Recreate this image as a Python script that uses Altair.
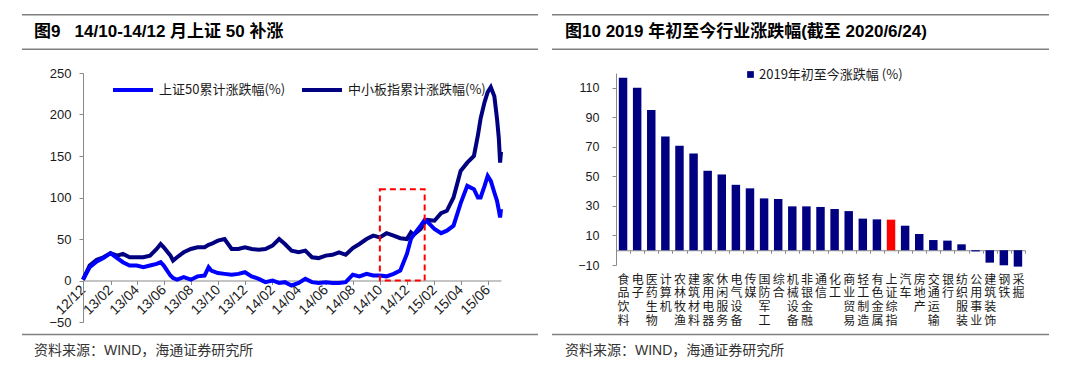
import altair as alt
import pandas as pd

# ---------------- Figure 9 data ----------------
dates = [
    "2012-12-01", "2012-12-16", "2013-01-01", "2013-01-16", "2013-02-01", "2013-02-16",
    "2013-03-01", "2013-03-16", "2013-04-01", "2013-04-16", "2013-05-01", "2013-05-16",
    "2013-05-25", "2013-06-01", "2013-06-16", "2013-06-22", "2013-07-01", "2013-07-16",
    "2013-08-01", "2013-08-16", "2013-09-01", "2013-09-10", "2013-09-16", "2013-10-01",
    "2013-10-16", "2013-11-01", "2013-11-16", "2013-12-01", "2013-12-16", "2014-01-01",
    "2014-01-16", "2014-02-01", "2014-02-16", "2014-03-01", "2014-03-16", "2014-04-01",
    "2014-04-16", "2014-05-01", "2014-05-16", "2014-06-01", "2014-06-16", "2014-07-01",
    "2014-07-16", "2014-08-01", "2014-08-16", "2014-09-01", "2014-09-16", "2014-10-01",
    "2014-10-16", "2014-11-01", "2014-11-16", "2014-12-01", "2014-12-10", "2014-12-16",
    "2015-01-01", "2015-01-10", "2015-01-16", "2015-02-01", "2015-02-16", "2015-03-01",
    "2015-03-16", "2015-04-01", "2015-04-16", "2015-05-01", "2015-05-10", "2015-05-16",
    "2015-05-25", "2015-06-01", "2015-06-08", "2015-06-16", "2015-06-22", "2015-06-26",
    "2015-06-29", "2015-07-01",
]
sme_cum = [
    1, 18, 25, 28, 33, 30, 32, 28, 28, 28, 30, 38,
    44, 40, 30, 24, 28, 34, 38, 40, 40, 43, 44, 48,
    50, 38, 38, 40, 38, 37, 38, 42, 50, 44, 36, 34,
    36, 28, 27, 30, 31, 34, 31, 39, 44, 50, 54, 52,
    57, 54, 51, 50, 58, 55, 62, 70, 73, 72, 81, 84,
    100, 132, 142, 150, 175, 195, 215, 227, 233, 222, 195, 172,
    142, 155,
]
sz50_cum = [
    1, 16, 23, 27, 33, 27, 22, 18, 18, 16, 18, 20,
    22, 18, 6, 3, 1, 4, 1, 5, 6, 16, 12, 9,
    8, 7, 8, 10, 5, 2, -2, 0, -3, -2, -6, -3,
    2, -2, -3, -2, -3, -3, -2, 7, 5, 8, 6, 6,
    5, 8, 12, 32, 50, 55, 66, 73, 71, 62, 57, 60,
    66, 93, 114, 110, 100, 100, 114, 126, 120, 106, 96, 85,
    76, 86,
]
series_names = ["上证50累计涨跌幅(%)", "中小板指累计涨跌幅(%)"]
series_colors = ["#0000FF", "#000080"]
x_tick_dates = [
    "2012-12-01", "2013-02-01", "2013-04-01", "2013-06-01", "2013-08-01", "2013-10-01",
    "2013-12-01", "2014-02-01", "2014-04-01", "2014-06-01", "2014-08-01", "2014-10-01",
    "2014-12-01", "2015-02-01", "2015-04-01", "2015-06-01",
]
x_domain_dates = ["2012-12-01", "2015-07-01"]
y1_ticks = [-50, 0, 50, 100, 150, 200, 250]
y1_domain = [-50, 250]
box_start, box_end, box_low, box_high = "2014-10-01", "2015-01-10", 0, 110

title_left = "图9\u00a0\u00a0\u00a014/10-14/12 月上证 50 补涨"
source_text = "资料来源：WIND，海通证券研究所"

# ---------------- Figure 10 data ----------------
industries = [
    "食品饮料", "电子", "医药生物", "计算机", "农林牧渔", "建筑材料", "家用电器", "休闲服务",
    "电气设备", "传媒", "国防军工", "综合", "机械设备", "非银金融", "通信", "化工",
    "商业贸易", "轻工制造", "有色金属", "上证综指", "汽车", "房地产", "交通运输", "银行",
    "纺织服装", "公用事业", "建筑装饰", "钢铁", "采掘",
]
ytd_change = [
    116.8, 110.0, 94.9, 77.0, 70.7, 65.5, 53.8, 51.3,
    44.3, 41.9, 35.1, 34.7, 29.7, 29.7, 29.3, 27.9,
    26.5, 21.4, 20.9, 20.7, 16.6, 11.0, 6.9, 6.5,
    4.0, -0.8, -8.4, -10.2, -11.1,
]
highlight = "上证综指"
bar_series = "2019年初至今涨跌幅 (%)"
y2_ticks = [-10, 10, 30, 50, 70, 90, 110]
y2_domain = [-10, 120]
title_right = "图10 2019 年初至今行业涨跌幅(截至 2020/6/24)"

# ---------------- style ----------------
CN = "Noto Sans CJK SC"
MIX = "Liberation Sans, Noto Sans CJK SC"
AX = "#898989"
TXT = "#1a1a1a"
RULE = "#808080"


def ms(s):
    return int(pd.Timestamp(s).value // 10**6)


def deco(w_left, w_right, title, title_x):
    one = pd.DataFrame({"t": [0]})
    rules = []
    for yy in (-58.3, -23.8, 261.5):
        rules.append(
            alt.Chart(one).mark_rule(color=RULE, strokeWidth=1.5).encode(
                x=alt.value(w_left), x2=alt.value(w_right), y=alt.value(yy)
            )
        )
    ttl = alt.Chart(pd.DataFrame({"t": [title]})).mark_text(
        align="left", baseline="middle", font=MIX, fontSize=17, fontWeight="bold", color="#000"
    ).encode(x=alt.value(title_x), y=alt.value(-41.3), text="t:N")
    src = alt.Chart(pd.DataFrame({"t": [source_text]})).mark_text(
        align="left", baseline="middle", font=MIX, fontSize=14, color="#333"
    ).encode(x=alt.value(title_x), y=alt.value(277.7), text="t:N")
    return rules + [ttl, src]


# ---------------- left chart ----------------
W1, H1 = 418, 249
off1 = -H1 * (0 - y1_domain[0]) / (y1_domain[1] - y1_domain[0])

n = len(dates)
df_sme = pd.DataFrame({"date": dates, "value": sme_cum, "series": [series_names[1]] * n})
df_sz = pd.DataFrame({"date": dates, "value": sz50_cum, "series": [series_names[0]] * n})

xenc = alt.X(
    "date:T",
    scale=alt.Scale(type="utc", domain=[ms(d) for d in x_domain_dates]),
    axis=alt.Axis(
        values=[ms(d) for d in x_tick_dates], format="%y/%m", labelAngle=-45,
        labelAlign="right", labelBaseline="middle", offset=off1, domainColor=AX,
        tickColor=AX, tickSize=4, labelPadding=3, labelFont=MIX, labelFontSize=14,
        labelColor=TXT, title=None, grid=False, labelOverlap=False, labelBound=False,
        labelFlush=False,
    ),
)
yenc = alt.Y(
    "value:Q",
    scale=alt.Scale(domain=y1_domain, nice=False, zero=False),
    axis=alt.Axis(
        values=y1_ticks, tickSize=4, labelPadding=8, domainColor=AX, tickColor=AX,
        labelFont=MIX, labelFontSize=13, labelColor=TXT, title=None, grid=False,
    ),
)
cenc = alt.Color(
    "series:N",
    scale=alt.Scale(domain=series_names, range=series_colors),
    legend=alt.Legend(
        orient="none", legendX=28, legendY=-5, direction="horizontal", title=None,
        symbolType="stroke", symbolSize=1600, symbolStrokeWidth=4, labelFont=CN,
        labelFontSize=13, labelColor=TXT, labelOffset=4, columnPadding=8, padding=0,
    ),
)
line_sme = alt.Chart(df_sme).mark_line(strokeWidth=4).encode(x=xenc, y=yenc, color=cenc)
line_sz = alt.Chart(df_sz).mark_line(strokeWidth=4).encode(x=xenc, y=yenc, color=cenc)
box = alt.Chart(
    pd.DataFrame({"date": [box_start], "x2": [box_end], "value": [box_low], "y2": [box_high]})
).mark_rect(fillOpacity=0, stroke="#FF0000", strokeWidth=2, strokeDash=[6, 4]).encode(
    x=xenc, x2="x2:T", y=yenc, y2="y2:Q"
)
left = alt.layer(
    line_sme, line_sz, box, *deco(-61, 455, title_left, -49)
).properties(width=W1, height=H1)

# ---------------- right chart ----------------
W2, H2 = 409, 192
off2 = -H2 * (0 - y2_domain[0]) / (y2_domain[1] - y2_domain[0])
df_bar = pd.DataFrame({
    "industry": industries, "value": ytd_change, "series": [bar_series] * len(industries)
})
bars = alt.Chart(df_bar).mark_bar(width=alt.RelativeBandSize(0.6)).encode(
    x=alt.X(
        "industry:N", sort=None,
        scale=alt.Scale(paddingInner=0, paddingOuter=0),
        axis=alt.Axis(
            labelAngle=0, labelExpr="split(datum.label, '')", labelBaseline="top",
            labelLineHeight=13.7, labelPadding=21, labelFont=CN, labelFontSize=12,
            labelColor=TXT, offset=off2, domainColor=AX, tickColor=AX, tickSize=3,
            tickBand="extent", title=None, labelOverlap=False, grid=False,
        ),
    ),
    y=alt.Y(
        "value:Q",
        scale=alt.Scale(domain=y2_domain, nice=False),
        axis=alt.Axis(
            values=y2_ticks, tickSize=4, labelPadding=13, domainColor=AX, tickColor=AX,
            labelFont=MIX, labelFontSize=12.5, labelColor=TXT, title=None, grid=False,
        ),
    ),
    color=alt.condition(
        alt.datum.industry == highlight,
        alt.value("#FF0000"),
        alt.Color(
            "series:N",
            scale=alt.Scale(domain=[bar_series], range=["#000080"]),
            legend=alt.Legend(
                orient="none", legendX=128, legendY=-5, title=None, symbolType="square",
                symbolSize=45, labelFont=CN, labelFontSize=13, labelColor=TXT,
                labelOffset=2, padding=0,
            ),
        ),
    ),
)
right = alt.layer(bars, *deco(-64, 433, title_right, -51)).properties(width=W2, height=H2)

chart = (
    alt.hconcat(left, right, spacing=12)
    .resolve_scale(color="independent")
    .configure(padding={"left": 13, "top": 5, "right": 0, "bottom": 0}, background="white")
    .configure_view(strokeWidth=0)
)
chart.save("out.html", embed_options={"renderer": "svg", "actions": False})
